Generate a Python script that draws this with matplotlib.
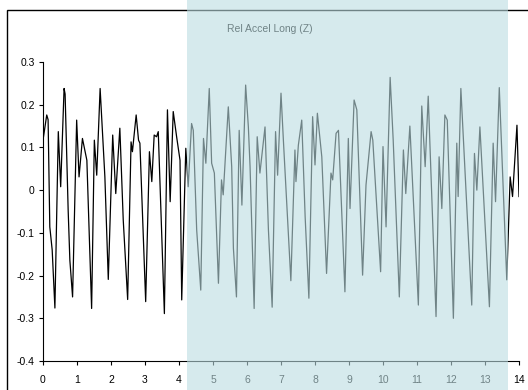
import matplotlib
matplotlib.use("Agg")
import matplotlib.pyplot as plt
from matplotlib.patches import Rectangle

plt.rcParams['font.family'] = ['Liberation Sans', 'DejaVu Sans']
plt.rcParams['axes.unicode_minus'] = False

# time (s) and relative longitudinal acceleration
time_s = [0.00, 0.11, 0.15, 0.20, 0.27, 0.35, 0.45, 0.52, 0.62, 0.65,
          0.74, 0.79, 0.87, 0.99, 1.06, 1.16, 1.29, 1.43, 1.51, 1.58,
          1.68, 1.82, 1.92, 2.05, 2.14, 2.26, 2.36, 2.49, 2.59, 2.63,
          2.74, 2.81, 2.85, 3.02, 3.13, 3.20, 3.27, 3.34, 3.39, 3.57,
          3.66, 3.74, 3.83, 3.93, 4.03, 4.08, 4.20, 4.27, 4.37, 4.42,
          4.52, 4.64, 4.72, 4.79, 4.89, 4.96, 5.04, 5.16, 5.25, 5.30,
          5.45, 5.55, 5.60, 5.69, 5.77, 5.85, 5.96, 6.04, 6.09, 6.21,
          6.30, 6.38, 6.53, 6.63, 6.74, 6.84, 6.90, 7.00, 7.07, 7.29,
          7.41, 7.44, 7.51, 7.61, 7.71, 7.82, 7.93, 8.00, 8.07, 8.20,
          8.34, 8.47, 8.52, 8.62, 8.69, 8.88, 8.98, 9.03, 9.15, 9.23,
          9.40, 9.50, 9.65, 9.70, 9.93, 10.00, 10.09, 10.21, 10.30, 10.48,
          10.60, 10.67, 10.79, 11.04, 11.14, 11.24, 11.33, 11.56, 11.65, 11.73,
          11.82, 11.89, 12.07, 12.17, 12.21, 12.29, 12.61, 12.69, 12.76, 12.85,
          13.13, 13.24, 13.31, 13.42, 13.64, 13.74, 13.81, 13.94, 14.00]
accel = [0.117, 0.176, 0.165, -0.086, -0.140, -0.276, 0.137, 0.008, 0.238, 0.225,
         -0.047, -0.164, -0.250, 0.164, 0.031, 0.121, 0.070, -0.277, 0.117, 0.035,
         0.238, 0.031, -0.209, 0.129, -0.008, 0.145, -0.070, -0.256, 0.113, 0.090,
         0.176, 0.117, 0.110, -0.261, 0.090, 0.020, 0.129, 0.125, 0.137, -0.289,
         0.188, -0.027, 0.184, 0.125, 0.070, -0.257, 0.098, 0.008, 0.156, 0.140,
         -0.093, -0.234, 0.121, 0.063, 0.238, 0.063, 0.040, -0.218, 0.024, -0.011,
         0.195, 0.055, -0.136, -0.250, 0.140, -0.035, 0.246, 0.148, 0.055, -0.277,
         0.125, 0.040, 0.148, -0.093, -0.274, 0.137, 0.035, 0.227, 0.117, -0.212,
         0.094, 0.020, 0.105, 0.164, -0.062, -0.253, 0.172, 0.059, 0.180, 0.078,
         -0.195, 0.040, 0.024, 0.133, 0.140, -0.238, 0.121, -0.043, 0.211, 0.188,
         -0.199, 0.012, 0.137, 0.117, -0.191, 0.102, -0.086, 0.264, 0.117, -0.250,
         0.094, -0.008, 0.150, -0.269, 0.197, 0.055, 0.220, -0.296, 0.078, -0.043,
         0.176, 0.164, -0.300, 0.110, -0.015, 0.238, -0.269, 0.086, 0.000, 0.148,
         -0.273, 0.110, -0.027, 0.240, -0.210, 0.031, -0.015, 0.152, -0.015]

x_ticks = list(range(0, 15))
y_ticks = [-0.4, -0.3, -0.2, -0.1, 0, 0.1, 0.2, 0.3]
y_labels = ['-0.4', '-0.3', '-0.2', '-0.1', '0', '0.1', '0.2', '0.3']
title = 'Rel Accel Long (Z)'
window = (4.24, 13.68)  # highlighted time window

W, H = 528, 390
fig = plt.figure(figsize=(W / 100, H / 100), dpi=100)
ax = fig.add_axes([43 / W, 29 / H, 476 / W, 299 / H])

ax.plot(time_s, accel, color='black', lw=0.9)

ax.set_xlim(0, 14)
ax.set_ylim(-0.4, 0.3)
ax.set_xticks(x_ticks)
ax.set_yticks(y_ticks)
ax.set_yticklabels(y_labels)
for s in ['top', 'right']:
    ax.spines[s].set_visible(False)
for s in ['left', 'bottom']:
    ax.spines[s].set_linewidth(0.8)
ax.tick_params(axis='both', labelsize=7.5, length=3, width=0.8, direction='out')
ax.tick_params(axis='x', pad=7)
ax.tick_params(axis='y', pad=3)

# outer chart frame (only top and left edges visible)
fig.add_artist(Rectangle((7 / W, -0.1), 1.2, 1 - 10 / H + 0.1, transform=fig.transFigure,
                         fill=False, edgecolor='black', lw=1, zorder=5))

fig.text(270 / W, 1 - 29 / H, title, ha='center', va='center', fontsize=7.5)

# translucent band over the highlighted window, full height
x0 = ax.transData.transform((window[0], 0))[0] / W
x1 = ax.transData.transform((window[1], 0))[0] / W
fig.add_artist(Rectangle((x0, 0), x1 - x0, 1, transform=fig.transFigure,
                         facecolor='#bbdce1', edgecolor='none', alpha=0.6, zorder=10))

fig.savefig('out.png', dpi=100)
